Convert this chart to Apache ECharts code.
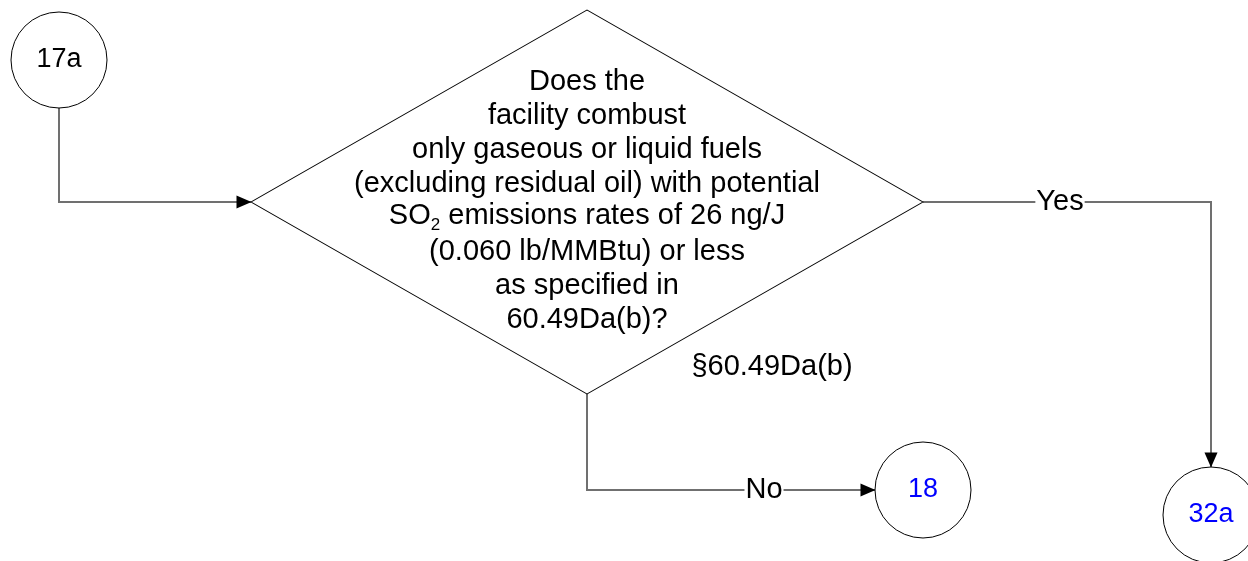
<!DOCTYPE html>
<html>
<head>
<meta charset="utf-8">
<style>
  html, body { margin: 0; padding: 0; background: #fff; }
  #chart { width: 1248px; height: 561px; }
</style>
<script src="https://cdn.jsdelivr.net/npm/echarts@6/dist/echarts.min.js"></script>
</head>
<body>
<div id="chart"></div>
<script>
// flowchart content
var nodeNames = ["17a", "question", "18", "32a"];
var questionLines = [
  "Does the",
  "facility combust",
  "only gaseous or liquid fuels",
  "(excluding residual oil) with potential",
  "SO_2 emissions rates of 26 ng/J",
  "(0.060 lb/MMBtu) or less",
  "as specified in",
  "60.49Da(b)?"
];
var edgeFrom = [0, 1, 1];
var edgeTo = [1, 3, 2];
var edgeLabels = ["", "Yes", "No"];
var noteText = "§60.49Da(b)";

// layout (1 axis unit = 1 px)
var nodeShapes = ["circle", "diamond", "circle", "circle"];
var nodeX = [59, 587, 923, 1211];
var nodeY = [60, 202, 490, 515];
var nodeW = [96, 672, 96, 96];
var nodeH = [96, 384, 96, 96];
var edgeFromSide = ["bottom", "right", "bottom"];
var edgeToSide = ["left", "top", "left"];
var edgeLabelX = [0, 1060, 764];
var notePos = [772, 367];

var FONT = '"Liberation Sans", Arial, sans-serif';

function port(i, side) {
  var x = nodeX[i], y = nodeY[i], w = nodeW[i] / 2, h = nodeH[i] / 2;
  if (side == "left") return [x - w, y];
  if (side == "right") return [x + w, y];
  if (side == "top") return [x, y - h];
  return [x, y + h];
}

var routes = [];
var arrows = [];
var labelData = [];
for (var i = 0; i < edgeFrom.length; i++) {
  var a = port(edgeFrom[i], edgeFromSide[i]);
  var b = port(edgeTo[i], edgeToSide[i]);
  var vertical = edgeFromSide[i] == "top" || edgeFromSide[i] == "bottom";
  var c = vertical ? [a[0], b[1]] : [b[0], a[1]];
  routes.push({ coords: [a, c, b] });
  // arrow head: tip on the end point
  var dx = b[0] - c[0], dy = b[1] - c[1];
  var len = Math.sqrt(dx * dx + dy * dy);
  dx /= len; dy /= len;
  arrows.push({
    value: [b[0] - dx * 7, b[1] - dy * 7],
    symbolRotate: -Math.atan2(dx, -dy) * 180 / Math.PI
  });
  if (edgeLabels[i]) {
    // label sits on the horizontal segment
    var ly = vertical ? b[1] : a[1];
    labelData.push({
      value: [edgeLabelX[i], ly],
      name: edgeLabels[i],
      label: { backgroundColor: "#fff" }
    });
  }
}

function questionRich() {
  return questionLines.map(function (line) {
    if (line.indexOf("_") >= 0) {
      var p = line.split("_");
      return "{t|" + p[0] + "}{s|" + p[1].charAt(0) + "}{t|" + p[1].slice(1) + "}";
    }
    return "{a|" + line + "}";
  }).join("\n");
}

var nodeData = nodeNames.map(function (n, i) {
  var d = {
    name: n,
    value: [nodeX[i], nodeY[i]],
    symbol: nodeShapes[i],
    symbolSize: [nodeW[i], nodeH[i]]
  };
  if (n == "question") {
    d.label = {
      formatter: questionRich,
      offset: [0, -1],
      rich: {
        a: { fontSize: 29, lineHeight: 34, fontFamily: FONT, color: "#000" },
        t: { fontSize: 29, lineHeight: 34, fontFamily: FONT, color: "#000", verticalAlign: "top" },
        s: { fontSize: 17, lineHeight: 26, padding: [16, 0, 0, 0], fontFamily: FONT, color: "#000", verticalAlign: "top" }
      }
    };
  } else {
    d.label = { color: i == 0 ? "#000" : "#0000ff", fontSize: 27 };
  }
  return d;
});

var myChart = echarts.init(document.getElementById("chart"));
myChart.setOption({
  animation: false,
  backgroundColor: "#fff",
  grid: { left: 0, right: 0, top: 0, bottom: 0 },
  xAxis: { type: "value", min: 0, max: 1248, show: false },
  yAxis: { type: "value", min: 0, max: 561, inverse: true, show: false },
  series: [
    {
      type: "lines",
      coordinateSystem: "cartesian2d",
      polyline: true,
      silent: true,
      z: 1,
      lineStyle: { color: "#707070", width: 2, opacity: 1 },
      data: routes
    },
    {
      type: "scatter",
      z: 2,
      silent: true,
      clip: false,
      itemStyle: { color: "#fff", borderColor: "#000", borderWidth: 1, opacity: 1 },
      label: {
        show: true,
        position: "inside",
        fontSize: 27,
        fontFamily: FONT,
        formatter: function (p) { return p.name; }
      },
      data: nodeData
    },
    {
      type: "scatter",
      z: 3,
      silent: true,
      symbol: "triangle",
      symbolSize: [13, 15],
      itemStyle: { color: "#000", opacity: 1 },
      data: arrows
    },
    {
      type: "scatter",
      z: 4,
      silent: true,
      symbol: "rect",
      symbolSize: 1,
      itemStyle: { color: "rgba(0,0,0,0)", opacity: 1 },
      label: {
        show: true,
        position: "inside",
        fontSize: 29,
        fontFamily: FONT,
        color: "#000",
        textBorderWidth: 0,
        padding: [0, 1],
        formatter: function (p) { return p.name; }
      },
      data: labelData.concat([{ value: notePos, name: noteText }])
    }
  ]
});
</script>
</body>
</html>
